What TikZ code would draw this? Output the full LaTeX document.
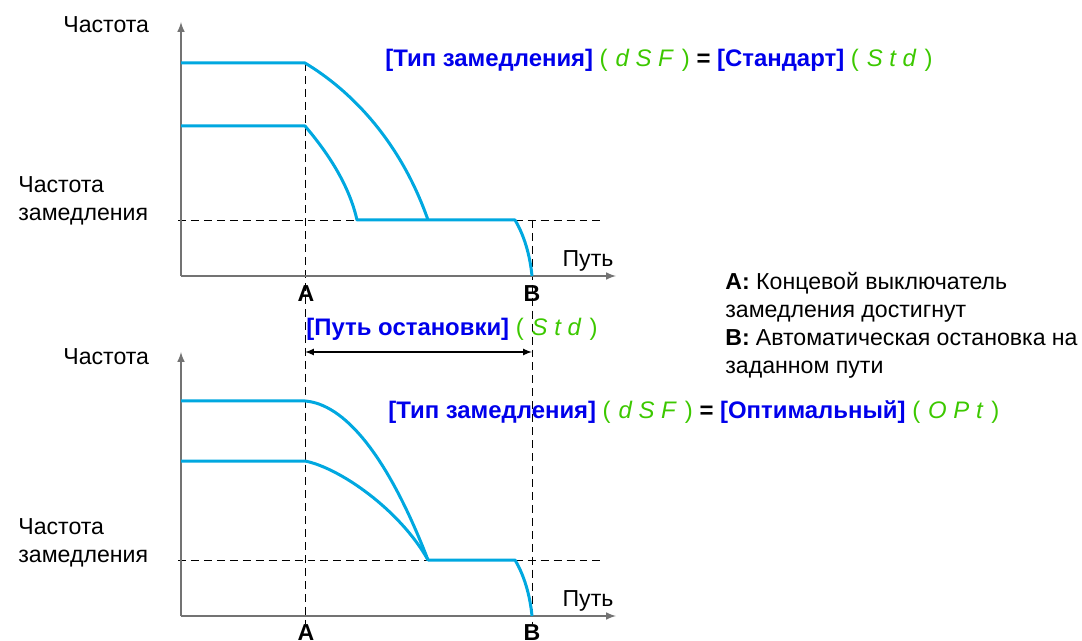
\documentclass[tikz,border=0pt]{standalone}
\usepackage{fontspec}
\setmainfont{Liberation Sans}
\definecolor{kurvenblau}{RGB}{0,168,224}
\definecolor{parblau}{RGB}{0,0,235}
\definecolor{anzgruen}{RGB}{60,200,0}
\newcommand{\anzeige}[1]{\textcolor{anzgruen}{(\,\,\textit{#1}\,\,)}}
\newcommand{\parname}[1]{\textcolor{parblau}{\textbf{#1}}}

\begin{document}
\begin{tikzpicture}[x=0.5bp, y=-0.5bp, font=\fontsize{11.6}{14}\selectfont,
	achse/.style={draw=black!55, line width=0.7pt, -latex},
	hilfs/.style={line width=0.45pt, dash pattern=on 4pt off 2.5pt},
	kurve/.style={draw=kurvenblau, line width=1.5bp, line join=round},
	titel/.style={anchor=west, inner sep=0pt, font=\fontsize{12}{14}\selectfont}]
	\useasboundingbox (0,0) rectangle (1082,641);
	% Hilfslinien
	\draw[hilfs] (305,63) -- (305,624);
	\draw[hilfs] (532,220) -- (532,624);
	\draw[hilfs] (178,220) -- (603,220);
	\draw[hilfs] (178,560) -- (603,560);

	% Achsen oben
	\coordinate (o1) at (181,276);
	\coordinate (y1) at (181,22);
	\coordinate (x1) at (616,276);
	\draw[achse] (o1) -- (y1);
	\draw[achse] (o1) -- (x1);
	% Achsen unten
	\coordinate (o2) at (181,616);
	\coordinate (y2) at (181,352);
	\coordinate (x2) at (616,616);
	\draw[achse] (o2) -- (y2);
	\draw[achse] (o2) -- (x2);

	% Kurven oben (Standard)
	\draw[kurve] (181,63) -- (305,63) .. controls (350,90) and (400,140) .. (428,220);
	\draw[kurve] (181,126) -- (305,126) .. controls (322,146) and (348,180) .. (357,220)
		-- (515,220) .. controls (524,235) and (530,255) .. (532,276);
	% Kurven unten (Optimal)
	\draw[kurve] (181,401) -- (305,401) .. controls (344,404) and (387,454) .. (428,560)
		-- (515,560) .. controls (524,575) and (530,595) .. (532,616);
	\draw[kurve] (181,461) -- (305,461) .. controls (340,468) and (400,510) .. (428,560);

	% Beschriftung
	\node[anchor=west, inner sep=0pt] (f1) at (63,25) {Частота};
	\node[anchor=west, inner sep=0pt, align=left] (fv1) at (18,201) {Частота\\замедления};
	\node (w1) at (588,261) {Путь};
	\node[font=\fontsize{11.6}{14}\selectfont\bfseries] (a1) at (306,294) {A};
	\node[font=\fontsize{11.6}{14}\selectfont\bfseries] (b1) at (532,294) {B};
	\node[anchor=west, inner sep=0pt] (f2) at (63,357) {Частота};
	\node[anchor=west, inner sep=0pt, align=left] (fv2) at (18,543) {Частота\\замедления};
	\node (w2) at (588,601) {Путь};
	\node[font=\fontsize{11.6}{14}\selectfont\bfseries] (a2) at (306,633) {A};
	\node[font=\fontsize{11.6}{14}\selectfont\bfseries] (b2) at (532,633) {B};

	\node[titel] (t1) at (385,60)
		{\parname{[Тип замедления]} \anzeige{d\;S\;F} \textbf{=} \parname{[Стандарт]} \anzeige{S\;t\;d}};
	\node[titel] (t2) at (388,412)
		{\parname{[Тип замедления]} \anzeige{d\;S\;F} \textbf{=} \parname{[Оптимальный]} \anzeige{O\;P\;t}};
	\node[titel] (s) at (306,329) {\parname{[Путь остановки]} \anzeige{S\;t\;d}};
	\coordinate (sa) at (305,352);
	\coordinate (sb) at (532,352);
	\draw[latex-latex, line width=0.55pt] (sa) -- (sb);

	% Legende
	\node[anchor=north west, align=left, inner sep=0pt] (leg) at (725,272)
		{\textbf{A:} Концевой выключатель\\замедления достигнут\\
		\makebox[176bp][s]{\textbf{B:} Автоматическая остановка на}\\заданном пути};
\end{tikzpicture}
\end{document}
